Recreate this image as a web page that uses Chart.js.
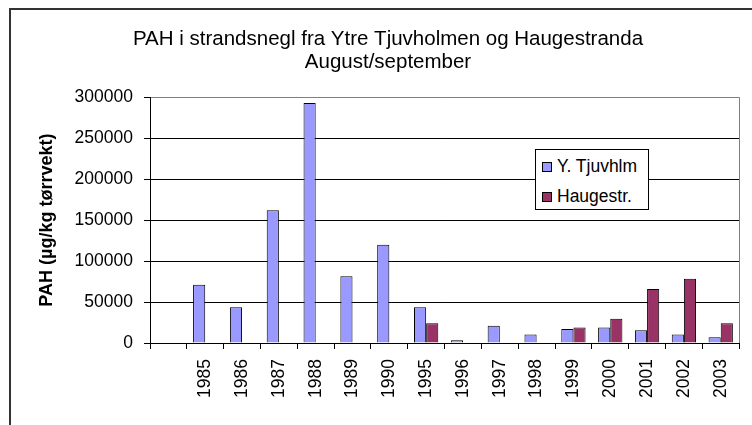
<!DOCTYPE html>
<html>
<head>
<meta charset="utf-8">
<script src="https://cdn.jsdelivr.net/npm/chart.js@4.4.1/dist/chart.umd.min.js"></script>
<style>
  body { margin: 0; background: #fff; }
  #wrap { position: relative; width: 752px; height: 425px; overflow: hidden; }
  #frame { position: absolute; left: 9px; top: 8px; width: 760px; height: 430px;
           border-left: 2px solid #333; border-top: 2px solid #333; }
  #chart { position: absolute; left: 0; top: 0; }
  #legend { position: absolute; left: 535px; top: 149px; width: 112px; height: 59px;
            border: 1px solid #000; background: #fff;
            font: 17.5px "Liberation Sans", Arial, sans-serif; color: #000; }
  .sw { position: absolute; left: 6px; width: 8px; height: 8px; border: 1px solid #000; }
  .lbl { position: absolute; left: 21px; line-height: 20px; white-space: nowrap; }
</style>
</head>
<body>
<div id="wrap">
  <div id="frame"></div>
  <canvas id="chart" width="752" height="425"></canvas>
  <div id="legend"></div>
</div>
<script>
const years = ["", "1985", "1986", "1987", "1988", "1989", "1990", "1995", "1996",
  "1997", "1998", "1999", "2000", "2001", "2002", "2003"];
const tjuvhlm = [null, 71000, 43500, 162000, 293000, 81500, 120000, 43500, 3500,
  21000, 10500, 17000, 19000, 15500, 10500, 7000];
const haugestr = [null, null, null, null, null, null, null, 24000, null,
  null, null, 19000, 29500, 66000, 78500, 24000];
const seriesNames = ["Y. Tjuvhlm", "Haugestr."];
const seriesColors = ["#9999FF", "#993366"];
const titleLines = ["PAH i strandsnegl fra Ytre Tjuvholmen og Haugestranda", "August/september"];
const yTitle = "PAH (µg/kg tørrvekt)";

const FONT = '"Liberation Sans", Arial, sans-serif';

// legend box (html so it can sit where the original one is)
const legend = document.getElementById("legend");
seriesNames.forEach((name, i) => {
  const sw = document.createElement("div");
  sw.className = "sw";
  sw.style.top = (12 + i * 30) + "px";
  sw.style.background = seriesColors[i];
  const lbl = document.createElement("div");
  lbl.className = "lbl";
  lbl.style.top = (6 + i * 30) + "px";
  lbl.textContent = name;
  legend.appendChild(sw);
  legend.appendChild(lbl);
});

const plotBorder = {
  id: "plotBorder",
  beforeDatasetsDraw(chart) {
    const { ctx, chartArea: a } = chart;
    ctx.save();
    ctx.strokeStyle = "#808080";
    ctx.lineWidth = 1;
    ctx.beginPath();
    ctx.moveTo(Math.round(a.right) + 0.5, a.top);
    ctx.lineTo(Math.round(a.right) + 0.5, a.bottom);
    ctx.stroke();
    ctx.restore();
  }
};

new Chart(document.getElementById("chart"), {
  type: "bar",
  data: {
    labels: years,
    datasets: [
      { label: seriesNames[0], data: tjuvhlm, backgroundColor: seriesColors[0] },
      { label: seriesNames[1], data: haugestr, backgroundColor: seriesColors[1] }
    ]
  },
  options: {
    responsive: false,
    animation: false,
    events: [],
    datasets: {
      bar: { categoryPercentage: 0.66, barPercentage: 1, borderWidth: 1, borderColor: "#000" }
    },
    layout: { padding: { left: 33, right: 9, top: 0, bottom: 0 } },
    plugins: {
      legend: { display: false },
      tooltip: { enabled: false },
      title: {
        display: true,
        text: titleLines,
        color: "#000",
        font: { family: FONT, size: 20.5, weight: "normal", lineHeight: 1.12 },
        padding: { top: 27.5, bottom: 23.8 }
      }
    },
    scales: {
      x: {
        grid: { offset: true, drawOnChartArea: false, tickLength: 6, color: "#000" },
        border: { color: "#000" },
        ticks: {
          minRotation: 90, maxRotation: 90, autoSkip: false, padding: 10,
          color: "#000", font: { family: FONT, size: 17.5 }
        },
        afterFit(s) { s.height = 82; }
      },
      y: {
        min: 0,
        max: 300000,
        ticks: {
          stepSize: 50000, padding: 11, color: "#000", font: { family: FONT, size: 17.5 },
          callback: v => String(v)
        },
        grid: {
          tickLength: 6,
          tickColor: "#000",
          color: c => (c.tick && c.tick.value === 300000 ? "#808080" : "#000")
        },
        border: { color: "#000" },
        title: {
          display: true,
          text: yTitle,
          color: "#000",
          font: { family: FONT, size: 18, weight: "bold" },
          padding: { top: 3, bottom: 0 }
        },
        afterFit(s) { s.width = 117; }
      }
    }
  },
  plugins: [plotBorder]
});
</script>
</body>
</html>
